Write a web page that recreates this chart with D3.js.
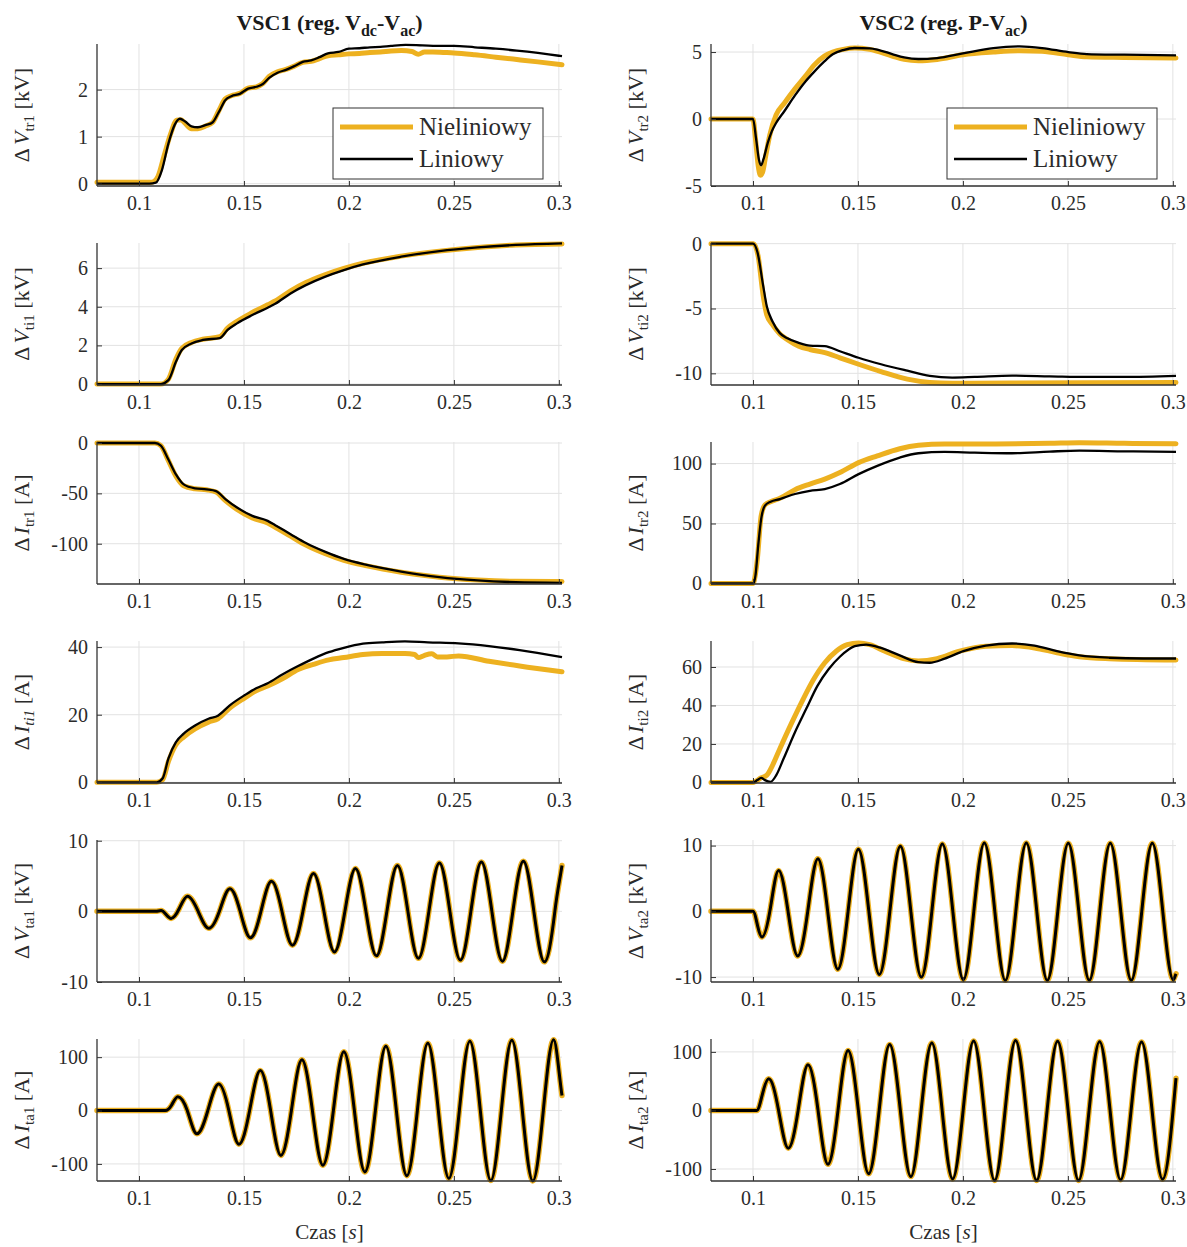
<!DOCTYPE html>
<html><head><meta charset="utf-8">
<script src="https://cdn.jsdelivr.net/npm/d3@7"></script>
<style>
body{margin:0;background:#fff;}
svg text{font-family:"Liberation Serif","Times New Roman",serif;}
</style></head><body>
<svg id="chart" width="1187" height="1247"></svg>
<script>
// ---------------- DATA ----------------
const seriesNames = ["Nieliniowy", "Liniowy"];
const timeTicks = [0.1, 0.15, 0.2, 0.25, 0.3];
const xLabel = "Czas [s]";

// ΔV_tr1 [kV]
const Vtr1_lin = [[0.08,0],[0.105,0],[0.108,0.02],[0.111,0.3],[0.114,0.85],[0.117,1.25],[0.1195,1.38],[0.122,1.32],[0.125,1.22],[0.128,1.2],[0.132,1.25],[0.135,1.3],[0.138,1.52],[0.141,1.77],[0.144,1.86],[0.148,1.91],[0.152,2.02],[0.156,2.06],[0.159,2.12],[0.162,2.25],[0.166,2.36],[0.17,2.42],[0.174,2.5],[0.178,2.59],[0.182,2.62],[0.186,2.69],[0.19,2.77],[0.195,2.8],[0.2,2.87],[0.205,2.88],[0.21,2.9],[0.215,2.91],[0.22,2.93],[0.227,2.95],[0.235,2.94],[0.245,2.93],[0.25,2.93],[0.26,2.9],[0.27,2.87],[0.28,2.83],[0.29,2.78],[0.3,2.72],[0.3015,2.71]];
const Vtr1_nl = [[0.08,0.03],[0.106,0.03],[0.109,0.15],[0.112,0.6],[0.115,1.05],[0.118,1.35],[0.12,1.36],[0.122,1.28],[0.125,1.17],[0.128,1.17],[0.132,1.23],[0.135,1.3],[0.138,1.55],[0.141,1.8],[0.144,1.87],[0.148,1.92],[0.152,2.03],[0.156,2.06],[0.159,2.13],[0.162,2.28],[0.166,2.38],[0.17,2.43],[0.174,2.5],[0.178,2.58],[0.182,2.6],[0.186,2.66],[0.19,2.72],[0.195,2.74],[0.2,2.76],[0.205,2.77],[0.21,2.79],[0.215,2.8],[0.22,2.82],[0.225,2.83],[0.23,2.81],[0.233,2.75],[0.236,2.8],[0.24,2.8],[0.245,2.79],[0.25,2.78],[0.26,2.74],[0.27,2.69],[0.28,2.64],[0.29,2.59],[0.3015,2.53]];

// ΔV_tr2 [kV]
const Vtr2_lin = [[0.08,0],[0.1,0],[0.1015,-1.5],[0.1028,-3.0],[0.1039,-3.45],[0.105,-3.0],[0.107,-1.8],[0.109,-0.9],[0.111,-0.3],[0.115,0.6],[0.12,1.76],[0.125,2.8],[0.129,3.5],[0.134,4.3],[0.138,4.83],[0.143,5.15],[0.1485,5.3],[0.1556,5.28],[0.16,5.15],[0.1663,4.85],[0.172,4.6],[0.1788,4.48],[0.1877,4.55],[0.2,4.9],[0.2145,5.3],[0.227,5.42],[0.2377,5.3],[0.2502,5.0],[0.259,4.85],[0.2769,4.8],[0.3015,4.75]];
const Vtr2_nl = [[0.08,0],[0.1,0],[0.1012,-1.5],[0.1025,-3.5],[0.1035,-4.2],[0.1045,-4.0],[0.106,-2.8],[0.108,-1.2],[0.111,0.3],[0.115,1.2],[0.12,2.25],[0.125,3.2],[0.129,4.0],[0.134,4.7],[0.138,5.0],[0.143,5.2],[0.1485,5.3],[0.1556,5.2],[0.1663,4.7],[0.172,4.45],[0.1788,4.35],[0.1877,4.45],[0.2,4.8],[0.2145,5.0],[0.227,5.1],[0.2377,5.05],[0.2502,4.8],[0.259,4.65],[0.2769,4.6],[0.3015,4.55]];

// ΔV_ti1 [kV]
const Vti1_lin = [[0.08,0],[0.1104,0],[0.114,0.2],[0.1176,1.15],[0.1204,1.76],[0.125,2.1],[0.1304,2.28],[0.1385,2.38],[0.1422,2.8],[0.1467,3.14],[0.154,3.57],[0.1613,3.95],[0.1649,4.15],[0.1722,4.69],[0.1795,5.12],[0.1885,5.55],[0.1976,5.9],[0.2067,6.19],[0.2249,6.59],[0.2431,6.88],[0.2613,7.07],[0.2795,7.2],[0.3015,7.28]];
const Vti1_nl = [[0.08,0],[0.1104,0],[0.114,0.25],[0.1176,1.3],[0.1204,1.85],[0.125,2.15],[0.1304,2.32],[0.1385,2.45],[0.1422,2.9],[0.1467,3.25],[0.154,3.7],[0.1613,4.1],[0.1649,4.3],[0.1722,4.82],[0.1795,5.25],[0.1885,5.65],[0.1976,5.98],[0.2067,6.25],[0.2249,6.62],[0.2431,6.88],[0.2613,7.07],[0.2795,7.2],[0.3015,7.25]];

// ΔV_ti2 [kV]
const Vti2_lin = [[0.08,0],[0.1,0],[0.1021,-0.64],[0.1048,-3.2],[0.1066,-4.85],[0.1093,-6.0],[0.1128,-6.9],[0.1164,-7.3],[0.1218,-7.65],[0.1271,-7.86],[0.1342,-7.9],[0.1414,-8.3],[0.1503,-8.8],[0.161,-9.3],[0.1735,-9.8],[0.1842,-10.2],[0.1949,-10.33],[0.2056,-10.28],[0.2234,-10.18],[0.2413,-10.23],[0.2591,-10.28],[0.2769,-10.28],[0.3015,-10.2]];
const Vti2_nl = [[0.08,0],[0.1003,0],[0.1025,-1.0],[0.1048,-3.95],[0.1066,-5.5],[0.1093,-6.25],[0.1128,-6.96],[0.1164,-7.4],[0.1218,-7.9],[0.1271,-8.16],[0.1342,-8.4],[0.1414,-8.8],[0.1503,-9.3],[0.161,-9.87],[0.1735,-10.45],[0.1842,-10.7],[0.1949,-10.76],[0.2234,-10.74],[0.3015,-10.7]];

// ΔI_tr1 [A]
const Itr1_lin = [[0.08,0],[0.1076,0],[0.1104,-2.6],[0.114,-16.4],[0.1176,-31.2],[0.1213,-41.1],[0.1267,-45],[0.1322,-46],[0.1367,-47.7],[0.1413,-55.9],[0.1467,-64.1],[0.154,-72.4],[0.1613,-77.3],[0.1649,-81.6],[0.1722,-90.5],[0.1795,-99.3],[0.1885,-107.9],[0.1976,-115.1],[0.2085,-121],[0.2249,-127.6],[0.2431,-133.2],[0.2613,-136.5],[0.2795,-138.2],[0.3015,-138.8]];
const Itr1_nl = [[0.08,0],[0.1076,0],[0.1104,-2.6],[0.114,-17.5],[0.1176,-33],[0.1213,-42.5],[0.1267,-45.5],[0.1322,-46.5],[0.1367,-48.7],[0.1413,-57.5],[0.1467,-66],[0.154,-74.5],[0.1613,-79.5],[0.1649,-83.6],[0.1722,-92.5],[0.1795,-101.3],[0.1885,-109.7],[0.1976,-116.5],[0.2085,-122],[0.2249,-128.3],[0.2431,-133.2],[0.2613,-136],[0.2795,-137.3],[0.3015,-137.5]];

// ΔI_tr2 [A]
const Itr2_lin = [[0.08,0],[0.1003,0],[0.1012,6.9],[0.1025,31.8],[0.1039,53.9],[0.1057,64.9],[0.1084,68.2],[0.1128,70.4],[0.12,74.6],[0.1271,77.3],[0.1342,78.7],[0.1414,82.9],[0.1503,91.2],[0.1592,98.1],[0.1699,105],[0.1788,108.6],[0.1913,109.7],[0.2056,109.1],[0.2234,108.6],[0.2413,110],[0.2555,110.8],[0.2769,110.2],[0.3015,109.7]];
const Itr2_nl = [[0.08,0],[0.1,0],[0.1012,8],[0.1021,20.7],[0.1039,56.6],[0.1057,65.5],[0.1084,68.2],[0.1128,71],[0.12,78.2],[0.1271,82.9],[0.1342,87],[0.1414,92.5],[0.1503,100.8],[0.1592,106.4],[0.1699,112.4],[0.1788,115.2],[0.1913,116.3],[0.2056,116.3],[0.2413,116.9],[0.2555,117.4],[0.2769,116.9],[0.3015,116.6]];

// ΔI_ti1 [A]
const Iti1_lin = [[0.08,0],[0.1085,0],[0.1113,1.2],[0.114,7.0],[0.1176,11.9],[0.1213,14.4],[0.1267,16.8],[0.1331,18.8],[0.1376,19.7],[0.1431,22.7],[0.1504,25.8],[0.1558,27.8],[0.1613,29.3],[0.1685,32],[0.1758,34.4],[0.1831,36.6],[0.1904,38.5],[0.1976,39.8],[0.2067,41],[0.2158,41.4],[0.2267,41.7],[0.2376,41.4],[0.2522,41.1],[0.2667,40.3],[0.2813,39.1],[0.3015,37]];
const Iti1_nl = [[0.08,0],[0.1085,0],[0.1113,0.8],[0.114,6.1],[0.1176,11.1],[0.1213,13.4],[0.1267,15.8],[0.1331,17.8],[0.1376,18.8],[0.1431,21.9],[0.1504,25],[0.1558,27.1],[0.1613,28.5],[0.1685,30.7],[0.1758,33.4],[0.1831,34.9],[0.1904,36.2],[0.1976,36.9],[0.2067,37.8],[0.2158,38.1],[0.2267,38.1],[0.2313,37.8],[0.2331,36.9],[0.2358,37.5],[0.2395,38],[0.2422,37.1],[0.2467,37.1],[0.2522,37.4],[0.2667,35.8],[0.2813,34.4],[0.3015,32.7]];

// ΔI_ti2 [A]
const Iti2_lin = [[0.08,0],[0.1,0],[0.1021,1.2],[0.1039,2.4],[0.1057,1.2],[0.1084,0.3],[0.1111,3.8],[0.1146,12.4],[0.12,26.1],[0.1253,38.1],[0.1307,50.2],[0.136,58.8],[0.1414,65.3],[0.1485,70.8],[0.1539,71.6],[0.161,69.9],[0.1699,66],[0.1788,62.5],[0.1842,62.2],[0.1913,64.3],[0.2002,68.2],[0.2109,71.1],[0.2234,72.2],[0.2341,71.1],[0.2448,68.2],[0.2555,66],[0.2698,64.8],[0.2858,64.4],[0.3015,64.4]];
const Iti2_nl = [[0.08,0],[0.1,0],[0.1039,2.4],[0.1066,3.8],[0.1093,8.9],[0.1128,17.5],[0.1182,30.4],[0.1235,42.4],[0.1289,53.6],[0.1342,62.2],[0.1396,68.2],[0.1449,71.6],[0.1503,72.5],[0.1556,71.6],[0.1628,68.2],[0.1717,64.3],[0.1788,63.1],[0.1877,64.3],[0.1984,68.2],[0.2109,70.8],[0.2234,71.1],[0.2341,69.9],[0.2448,67.4],[0.2555,65.3],[0.2698,64.3],[0.3015,63.6]];

// ΔV_ta1 [kV]  (extrema and zero crossings)
const Vta1_lin = [[0.08,0],[0.085,0],[0.09,0],[0.095,0],[0.1,0],[0.105,0],[0.108,0],[0.1105,0.12],[0.1153,-1.0],[0.1192,0.4],[0.1231,2.15],[0.1282,0],[0.1333,-2.4],[0.1383,0],[0.1433,3.2],[0.1482,0],[0.1531,-3.75],[0.1581,0],[0.1631,4.25],[0.1681,0],[0.1731,-4.8],[0.1781,0],[0.1831,5.35],[0.1881,0],[0.1931,-5.75],[0.1981,0],[0.2031,6.05],[0.2081,0],[0.2131,-6.3],[0.2181,0],[0.2231,6.5],[0.2281,0],[0.2331,-6.65],[0.2381,0],[0.2431,6.85],[0.2481,0],[0.2531,-6.9],[0.2581,0],[0.2631,7.0],[0.2681,0],[0.2731,-7.05],[0.2781,0],[0.2831,7.1],[0.2881,0],[0.2931,-7.15],[0.2981,0],[0.3015,6.5]];
const Vta1_nl = Vta1_lin;

// ΔV_ta2 [kV]
const Vta2_lin = [[0.08,0],[0.085,0],[0.09,0],[0.095,0],[0.099,0],[0.1,0],[0.1022,-2.2],[0.1043,-3.9],[0.1083,0.5],[0.1122,6.2],[0.1167,0],[0.1213,-6.8],[0.1261,0],[0.1309,8.0],[0.1356,0],[0.1404,-8.8],[0.1453,0],[0.1502,9.45],[0.1552,0],[0.1602,-9.6],[0.1652,0],[0.1702,9.9],[0.1752,0],[0.1802,-10.0],[0.1852,0],[0.1902,10.25],[0.1952,0],[0.2002,-10.4],[0.2052,0],[0.2102,10.4],[0.2152,0],[0.2202,-10.5],[0.2252,0],[0.2302,10.4],[0.2352,0],[0.2402,-10.5],[0.2452,0],[0.2502,10.35],[0.2552,0],[0.2602,-10.5],[0.2652,0],[0.2702,10.35],[0.2752,0],[0.2802,-10.5],[0.2852,0],[0.2902,10.35],[0.2952,0],[0.3002,-10.4],[0.3015,-9.5]];
const Vta2_nl = Vta2_lin;

// ΔI_ta1 [A]
const Ita1_lin = [[0.08,0],[0.085,0],[0.09,0],[0.095,0],[0.1,0],[0.105,0],[0.11,0],[0.1125,0],[0.1155,10],[0.1185,26],[0.123,0],[0.1276,-43.5],[0.1328,0],[0.138,49.5],[0.1428,0],[0.1476,-63],[0.1527,0],[0.1578,75],[0.1627,0],[0.1676,-84],[0.1726,0],[0.1776,95],[0.1826,0],[0.1876,-102.5],[0.1926,0],[0.1976,110],[0.2026,0],[0.2076,-115],[0.2126,0],[0.2176,120.5],[0.2226,0],[0.2276,-122],[0.2326,0],[0.2376,126],[0.2426,0],[0.2476,-127],[0.2526,0],[0.2576,130],[0.2626,0],[0.2676,-131],[0.2726,0],[0.2776,131.5],[0.2826,0],[0.2876,-132],[0.2926,0],[0.2975,132.5],[0.3015,28]];
const Ita1_nl = Ita1_lin;

// ΔI_ta2 [A]
const Ita2_lin = [[0.08,0],[0.085,0],[0.09,0],[0.095,0],[0.1,0],[0.1018,0],[0.1045,28],[0.1075,54],[0.1122,0],[0.1168,-64.5],[0.1215,0],[0.1262,78],[0.131,0],[0.1357,-92],[0.1405,0],[0.1453,102.5],[0.1502,0],[0.1551,-108],[0.1601,0],[0.1651,112.5],[0.1702,0],[0.1752,-113],[0.1801,0],[0.1852,115],[0.1901,0],[0.1951,-117],[0.2001,0],[0.2051,118.5],[0.2101,0],[0.2151,-119.5],[0.2201,0],[0.2251,119.5],[0.2301,0],[0.2351,-119.5],[0.2401,0],[0.2451,118],[0.2501,0],[0.2551,-119.5],[0.2601,0],[0.2651,117.5],[0.2701,0],[0.2751,-118.5],[0.2801,0],[0.2851,117],[0.2901,0],[0.2951,-117.5],[0.3001,0],[0.3015,55]];
const Ita2_nl = Ita2_lin;

// ---------------- LAYOUT ----------------
const xDomain = [0.08, 0.3015];
const colX = [[97, 562], [711, 1176]];
const rowTop = [44, 243, 442, 641, 840, 1039];
const plotH = 142;
const ORANGE = "#EDB120", BLACK = "#000000";

const panels = [
  {c:0,r:0,nl:Vtr1_nl,lin:Vtr1_lin,dom:[-0.05,2.97],ticks:[0,1,2],sym:"V",sub:"tr1",unit:"[kV]",osc:false,legend:true},
  {c:1,r:0,nl:Vtr2_nl,lin:Vtr2_lin,dom:[-5,5.6],ticks:[-5,0,5],sym:"V",sub:"tr2",unit:"[kV]",osc:false,legend:true},
  {c:0,r:1,nl:Vti1_nl,lin:Vti1_lin,dom:[-0.05,7.3],ticks:[0,2,4,6],sym:"V",sub:"ti1",unit:"[kV]",osc:false},
  {c:1,r:1,nl:Vti2_nl,lin:Vti2_lin,dom:[-10.9,0.05],ticks:[-10,-5,0],sym:"V",sub:"ti2",unit:"[kV]",osc:false},
  {c:0,r:2,nl:Itr1_nl,lin:Itr1_lin,dom:[-140,1],ticks:[-100,-50,0],sym:"I",sub:"tr1",unit:"[A]",osc:false},
  {c:1,r:2,nl:Itr2_nl,lin:Itr2_lin,dom:[-0.5,118],ticks:[0,50,100],sym:"I",sub:"tr2",unit:"[A]",osc:false},
  {c:0,r:3,nl:Iti1_nl,lin:Iti1_lin,dom:[-0.2,41.8],ticks:[0,20,40],sym:"I",sub:"ti1",unit:"[A]",osc:false,subItalic:true},
  {c:1,r:3,nl:Iti2_nl,lin:Iti2_lin,dom:[-0.3,73.5],ticks:[0,20,40,60],sym:"I",sub:"ti2",unit:"[A]",osc:false},
  {c:0,r:4,nl:Vta1_nl,lin:Vta1_lin,dom:[-10,10.1],ticks:[-10,0,10],sym:"V",sub:"ta1",unit:"[kV]",osc:true},
  {c:1,r:4,nl:Vta2_nl,lin:Vta2_lin,dom:[-10.75,10.85],ticks:[-10,0,10],sym:"V",sub:"ta2",unit:"[kV]",osc:true},
  {c:0,r:5,nl:Ita1_nl,lin:Ita1_lin,dom:[-132,134],ticks:[-100,0,100],sym:"I",sub:"ta1",unit:"[A]",osc:true},
  {c:1,r:5,nl:Ita2_nl,lin:Ita2_lin,dom:[-120.5,122],ticks:[-100,0,100],sym:"I",sub:"ta2",unit:"[A]",osc:true},
];

// Hermite curve (function of x) with slope zero at local extrema
function HermiteX(context, k){ this._context = context; this._k = k; }
HermiteX.prototype = {
  areaStart(){ this._line = 0; }, areaEnd(){ this._line = NaN; },
  lineStart(){ this._x = []; this._y = []; },
  point(x, y){ this._x.push(+x); this._y.push(+y); },
  lineEnd(){
    const X = this._x, Y = this._y, n = X.length, c = this._context, k = this._k;
    if (!n) return;
    const m = new Array(n);
    for (let i = 0; i < n; i++) {
      if (i === 0) m[i] = n > 1 ? (Y[1]-Y[0])/(X[1]-X[0]) : 0;
      else if (i === n-1) m[i] = (Y[i]-Y[i-1])/(X[i]-X[i-1]);
      else if ((Y[i]-Y[i-1])*(Y[i+1]-Y[i]) <= 0) m[i] = 0;
      else m[i] = k*(Y[i+1]-Y[i-1])/(X[i+1]-X[i-1]);
    }
    c.moveTo(X[0], Y[0]);
    for (let i = 0; i < n-1; i++) {
      const h = (X[i+1]-X[i])/3;
      c.bezierCurveTo(X[i]+h, Y[i]+m[i]*h, X[i+1]-h, Y[i+1]-m[i+1]*h, X[i+1], Y[i+1]);
    }
  }
};
const curveHermiteX = k => (ctx => new HermiteX(ctx, k));

// ---------------- DRAW ----------------
const svg = d3.select("#chart");
svg.append("rect").attr("width",1187).attr("height",1247).attr("fill","#fff");

const AX = "#333333", GRID = "#e2e2e2", TXT = "#2b2b2b";

panels.forEach(p => {
  const [x0, x1] = colX[p.c];
  const y0 = rowTop[p.r], y1 = y0 + plotH;
  const x = d3.scaleLinear().domain(xDomain).range([x0, x1]);
  const y = d3.scaleLinear().domain(p.dom).range([y1, y0]);
  const g = svg.append("g");

  // grid
  g.selectAll(".gx").data(timeTicks).join("line")
    .attr("x1", d => x(d)).attr("x2", d => x(d)).attr("y1", y0).attr("y2", y1)
    .attr("stroke", GRID).attr("stroke-width", 1);
  g.selectAll(".gy").data(p.ticks).join("line")
    .attr("x1", x0).attr("x2", x1).attr("y1", d => y(d)).attr("y2", d => y(d))
    .attr("stroke", GRID).attr("stroke-width", 1);

  // lines
  const curve = p.osc ? curveHermiteX(1.5) : d3.curveMonotoneX;
  const line = d3.line().x(d => x(d[0])).y(d => y(d[1])).curve(curve);
  g.append("path").datum(p.nl).attr("d", line).attr("fill","none")
    .attr("stroke", ORANGE).attr("stroke-width", p.osc ? 5.5 : 5).attr("stroke-linejoin","round").attr("stroke-linecap","round");
  g.append("path").datum(p.lin).attr("d", line).attr("fill","none")
    .attr("stroke", BLACK).attr("stroke-width", p.osc ? 3 : 2.3).attr("stroke-linejoin","round");

  // axes
  const xa = g.append("g").attr("transform", `translate(0,${y1})`)
    .call(d3.axisBottom(x).tickValues(timeTicks).tickSize(-5).tickPadding(10).tickFormat(d => String(d)));
  const ya = g.append("g").attr("transform", `translate(${x0},0)`)
    .call(d3.axisLeft(y).tickValues(p.ticks).tickSize(-5).tickPadding(9).tickFormat(d => String(d)));
  [xa, ya].forEach(a => {
    a.selectAll(".tick line").attr("stroke", AX).attr("stroke-width", 1);
    a.selectAll(".tick text").attr("fill", TXT).attr("font-size", 20)
      .attr("font-family", '"Liberation Serif", serif');
  });
  xa.select(".domain").remove(); ya.select(".domain").remove();
  g.append("line").attr("x1", x0).attr("x2", x1).attr("y1", y1).attr("y2", y1).attr("stroke", AX).attr("stroke-width", 1.3);
  g.append("line").attr("x1", x0).attr("x2", x0).attr("y1", y0).attr("y2", y1).attr("stroke", AX).attr("stroke-width", 1.3);
  xa.selectAll(".tick text").attr("dy", "0.71em");

  // y label
  const lx = p.c === 0 ? 29 : 643;
  const t = g.append("text").attr("transform", `translate(${lx},${(y0+y1)/2}) rotate(-90)`)
    .attr("text-anchor","middle").attr("font-size",22).attr("fill", TXT);
  t.append("tspan").text("Δ");
  t.append("tspan").attr("dx", 3).attr("font-style","italic").text(p.sym);
  t.append("tspan").attr("font-size", 15).attr("dy", 5).attr("font-style", p.subItalic ? "italic" : "normal").text(p.sub);
  t.append("tspan").attr("dy", -5).text("\u00a0" + p.unit);

  // legend
  if (p.legend) {
    const bx = x0 + 236, by = 108;
    const lg = g.append("g");
    lg.append("rect").attr("x", bx).attr("y", by).attr("width", 210).attr("height", 71)
      .attr("fill", "#fff").attr("stroke", AX).attr("stroke-width", 1);
    const items = [{name: seriesNames[0], col: ORANGE, w: 5, dy: 19}, {name: seriesNames[1], col: BLACK, w: 2.3, dy: 51}];
    items.forEach(it => {
      lg.append("line").attr("x1", bx+7).attr("x2", bx+80).attr("y1", by+it.dy).attr("y2", by+it.dy)
        .attr("stroke", it.col).attr("stroke-width", it.w);
      lg.append("text").attr("x", bx+86).attr("y", by+it.dy+8).attr("font-size", 25).attr("fill", TXT).text(it.name);
    });
  }

  // bottom x label
  if (p.r === 5) {
    g.append("text").attr("x", (x0+x1)/2).attr("y", 1239).attr("text-anchor","middle")
      .attr("font-size", 21).attr("fill", TXT)
      .call(s => { s.append("tspan").text("Czas ["); s.append("tspan").attr("font-style","italic").text("s"); s.append("tspan").text("]"); });
  }
});

// column titles
const titles = [
  {c:0, parts:[["VSC1 (reg. V",0],["dc",1],["-V",0],["ac",1],[")",0]]},
  {c:1, parts:[["VSC2 (reg. P-V",0],["ac",1],[")",0]]}
];
titles.forEach(tt => {
  const [x0, x1] = colX[tt.c];
  const t = svg.append("text").attr("x", (x0+x1)/2).attr("y", 30).attr("text-anchor","middle")
    .attr("font-size", 22).attr("font-weight","bold").attr("fill", "#1a1a1a");
  let prevSub = 0;
  tt.parts.forEach(([s, sub]) => {
    const ts = t.append("tspan").text(s);
    if (sub) ts.attr("font-size", 16);
    const dy = (sub ? 6 : 0) - (prevSub ? 6 : 0);
    if (dy) ts.attr("dy", dy);
    prevSub = sub;
  });
});
</script>
</body></html>
